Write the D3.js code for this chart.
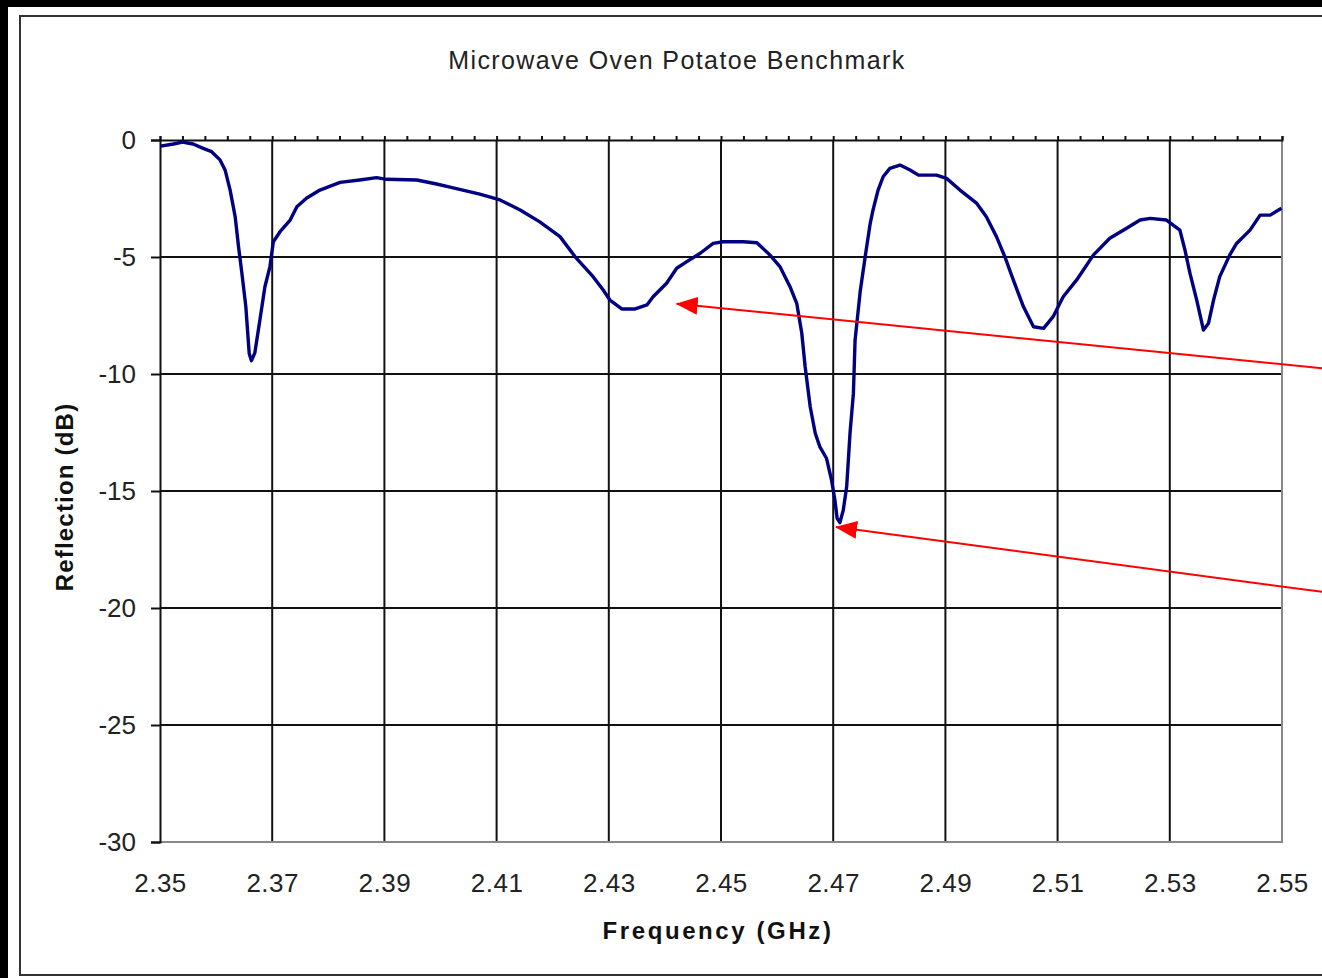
<!DOCTYPE html>
<html lang="en">
<head>
    <meta charset="UTF-8">
    <title>Microwave Oven Potatoe Benchmark</title>
    <script src="https://d3js.org/d3.v7.min.js"></script>
    <style>
        body { margin: 0; background: #000; }
        text { font-family: "Liberation Sans", Arial, sans-serif; }
    </style>
</head>
    <body>
        <script>
            // frequency in GHz, reflection in dB
            const freq = [
                2.3501, 2.3524, 2.3540, 2.3559, 2.3577, 2.3592, 2.3607, 2.3616, 2.3625, 2.3634,
                2.3640, 2.3646, 2.3653, 2.3659, 2.3663, 2.3669, 2.3678, 2.3687, 2.3696, 2.3702,
                2.3714, 2.3732, 2.3744, 2.3761, 2.3785, 2.3821, 2.3856, 2.3886, 2.3904, 2.3958,
                2.3993, 2.4017, 2.4070, 2.4106, 2.4142, 2.4177, 2.4213, 2.4240, 2.4272, 2.4290,
                2.4302, 2.4323, 2.4347, 2.4368, 2.4379, 2.4403, 2.4421, 2.4439, 2.4463, 2.4486,
                2.4504, 2.4540, 2.4564, 2.4587, 2.4605, 2.4623, 2.4635, 2.4644, 2.4650, 2.4659,
                2.4668, 2.4676, 2.4688, 2.4697, 2.4703, 2.4707, 2.4712, 2.4718, 2.4724, 2.4730,
                2.4736, 2.4739, 2.4748, 2.4757, 2.4766, 2.4771, 2.4780, 2.4789, 2.4801, 2.4819,
                2.4837, 2.4852, 2.4884, 2.4902, 2.4926, 2.4956, 2.4973, 2.4991, 2.5006, 2.5021,
                2.5039, 2.5057, 2.5075, 2.5092, 2.5110, 2.5134, 2.5164, 2.5193, 2.5223, 2.5247,
                2.5265, 2.5294, 2.5318, 2.5327, 2.5336, 2.5348, 2.5360, 2.5369, 2.5378, 2.5389,
                2.5407, 2.5419, 2.5443, 2.5461, 2.5479, 2.5499
            ]
            const reflection = [
                -0.26, -0.17, -0.09, -0.17, -0.36, -0.50, -0.85, -1.28, -2.14, -3.28,
                -4.56, -5.70, -7.12, -9.12, -9.43, -9.10, -7.70, -6.27, -5.41, -4.35,
                -3.92, -3.42, -2.85, -2.49, -2.14, -1.81, -1.71, -1.61, -1.68, -1.71,
                -1.88, -2.01, -2.31, -2.56, -2.99, -3.50, -4.13, -4.99, -5.84, -6.41,
                -6.84, -7.22, -7.22, -7.05, -6.70, -6.12, -5.48, -5.20, -4.84, -4.42,
                -4.35, -4.35, -4.39, -4.91, -5.41, -6.27, -6.98, -8.26, -9.69, -11.40,
                -12.53, -13.10, -13.60, -14.53, -15.38, -16.17, -16.35, -15.81, -14.82, -12.53,
                -10.83, -8.55, -6.50, -4.99, -3.56, -2.99, -2.14, -1.57, -1.21, -1.07,
                -1.28, -1.50, -1.50, -1.64, -2.14, -2.71, -3.28, -4.13, -4.99, -5.98,
                -7.12, -7.98, -8.05, -7.55, -6.70, -5.98, -4.91, -4.20, -3.77, -3.42,
                -3.35, -3.42, -3.85, -4.70, -5.70, -6.84, -8.12, -7.83, -6.84, -5.84,
                -4.91, -4.42, -3.85, -3.21, -3.21, -2.92
            ]

            const xTicks = [2.35, 2.37, 2.39, 2.41, 2.43, 2.45, 2.47, 2.49, 2.51, 2.53, 2.55]
            const yTicks = [0, -5, -10, -15, -20, -25, -30]

            // red annotation arrows: [from, to] in data units (tails run off the right edge)
            const arrowFrom = [[2.5603, -9.83], [2.5603, -19.41]]
            const arrowTo = [[2.4421, -7.0], [2.4705, -16.54]]

            const data = freq.map((f, i) => ({ f: f, db: reflection[i] }))

            let width = 1322;
            let height = 978;

            let margin = { top: 140, right: 40, bottom: 136, left: 160 }

            let xScale = d3.scaleLinear()
                .domain([2.35, 2.55])
                .range([margin.left, width - margin.right])

            let yScale = d3.scaleLinear()
                .domain([-30, 0])
                .range([height - margin.bottom, margin.top])

            let svg = d3.select('body').append('svg')
                .attr('width', width).attr('height', height)
                .style('display', 'block')

            // white sheet + thin chart-area frame
            svg.append('rect')
                .attr('x', 8).attr('y', 7)
                .attr('width', width - 8).attr('height', height - 7)
                .attr('fill', '#fff')
            svg.append('rect')
                .attr('x', 20).attr('y', 16)
                .attr('width', width).attr('height', 959)
                .attr('fill', 'none').attr('stroke', '#333').attr('stroke-width', 2)

            svg.append('text')
                .attr('x', 677).attr('y', 69)
                .attr('text-anchor', 'middle')
                .attr('font-size', 25)
                .attr('letter-spacing', 1.4)
                .attr('fill', '#222')
                .text('Microwave Oven Potatoe Benchmark')

            // grid
            let grid = svg.append('g').attr('class', 'grid')
            grid.selectAll('line.v')
                .data(xTicks.slice(1, -1))
                .join('line')
                .attr('class', 'v')
                .attr('x1', d => xScale(d)).attr('x2', d => xScale(d))
                .attr('y1', yScale(0)).attr('y2', yScale(-30))
                .attr('stroke', '#111').attr('stroke-width', 2)
            grid.selectAll('line.h')
                .data(yTicks.slice(1, -1))
                .join('line')
                .attr('class', 'h')
                .attr('x1', xScale(2.35)).attr('x2', xScale(2.55))
                .attr('y1', d => yScale(d)).attr('y2', d => yScale(d))
                .attr('stroke', '#111').attr('stroke-width', 2)

            // plot area border (bottom + right are grey)
            grid.append('path')
                .attr('d', `M${xScale(2.35)},${yScale(-30)}H${xScale(2.55)}V${yScale(0)}`)
                .attr('fill', 'none').attr('stroke', '#888').attr('stroke-width', 2)

            // x axis sits at 0 dB with minor ticks pointing up
            let minor = d3.range(0, 51).map(i => 2.35 + i * 0.004)
            svg.append('g')
                .attr('class', 'x-axis-top')
                .attr('transform', `translate(0,${yScale(0)})`)
                .call(d3.axisTop(xScale).tickValues(minor).tickSize(4).tickFormat(''))
                .call(g => g.select('.domain').attr('stroke', '#111').attr('stroke-width', 2))
                .call(g => g.selectAll('.tick line').attr('stroke', '#111').attr('stroke-width', 2))

            // x labels at the bottom
            svg.append('g')
                .attr('class', 'x-axis')
                .attr('transform', `translate(0,${yScale(-30)})`)
                .call(d3.axisBottom(xScale).tickValues(xTicks).tickSize(0).tickPadding(32).tickFormat(d3.format('.2f')))
                .call(g => g.select('.domain').remove())
                .call(g => g.selectAll('.tick text')
                    .attr('font-size', 26).attr('fill', '#222')
                    .attr('letter-spacing', 0.5)
                    .style('font-family', '"Liberation Sans", Arial, sans-serif'))

            svg.append('g')
                .attr('class', 'y-axis')
                .attr('transform', `translate(${margin.left},0)`)
                .call(d3.axisLeft(yScale).tickValues(yTicks).tickSize(9).tickPadding(15).tickFormat(d => String(d)))
                .call(g => g.select('.domain').attr('stroke', '#111').attr('stroke-width', 2))
                .call(g => g.selectAll('.tick line').attr('stroke', '#111').attr('stroke-width', 2))
                .call(g => g.selectAll('.tick text')
                    .attr('font-size', 26).attr('fill', '#222')
                    .style('font-family', '"Liberation Sans", Arial, sans-serif'))

            svg.append('text')
                .attr('x', 718).attr('y', 939)
                .attr('text-anchor', 'middle')
                .attr('font-size', 24).attr('font-weight', 'bold')
                .attr('letter-spacing', 2.6)
                .attr('fill', '#111')
                .text('Frequency (GHz)')

            svg.append('text')
                .attr('transform', 'translate(73,497) rotate(-90)')
                .attr('text-anchor', 'middle')
                .attr('font-size', 24).attr('font-weight', 'bold')
                .attr('letter-spacing', 1.2)
                .attr('fill', '#111')
                .text('Reflection (dB)')

            svg.append('path')
                .datum(data)
                .attr('fill', 'none')
                .attr('stroke', '#000080')
                .attr('stroke-width', 3.4)
                .attr('stroke-linejoin', 'round')
                .attr('d', d3.line().x(d => xScale(d.f)).y(d => yScale(d.db)))

            svg.append('defs').append('marker')
                .attr('id', 'arrow')
                .attr('markerUnits', 'userSpaceOnUse')
                .attr('viewBox', '0 0 22 18')
                .attr('refX', 21).attr('refY', 9)
                .attr('markerWidth', 22).attr('markerHeight', 18)
                .attr('orient', 'auto')
                .append('path')
                .attr('d', 'M0,0L22,9L0,18Z')
                .attr('fill', '#ff0000')

            svg.append('g')
                .attr('class', 'arrows')
                .selectAll('line')
                .data(arrowFrom.map((a, i) => [a, arrowTo[i]]))
                .join('line')
                .attr('x1', d => xScale(d[0][0])).attr('y1', d => yScale(d[0][1]))
                .attr('x2', d => xScale(d[1][0])).attr('y2', d => yScale(d[1][1]))
                .attr('stroke', '#ff0000').attr('stroke-width', 2)
                .attr('marker-end', 'url(#arrow)')

        </script>
    </body>
</html>
